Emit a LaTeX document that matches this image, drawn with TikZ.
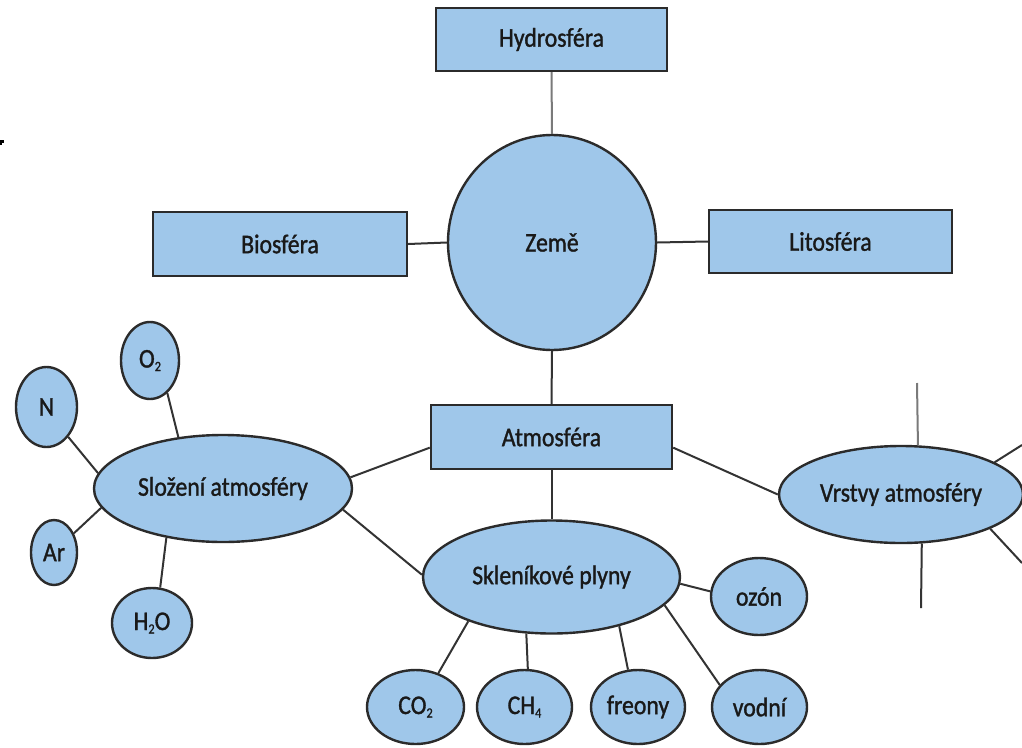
\documentclass[tikz,border=0pt]{standalone}
\usepackage{fontspec}
\setmainfont{Carlito}[FakeStretch=0.88,FakeBold=1.2]
\usetikzlibrary{shapes.geometric}
\definecolor{boxfill}{HTML}{9FC7EA}
\definecolor{edgecol}{HTML}{2B2B2B}
\definecolor{linecol}{HTML}{333333}
\definecolor{greyline}{HTML}{7A7A7A}
\newcommand{\chemsub}[1]{\raisebox{-3.5pt}{\fontsize{14}{14}\selectfont #1}}
\tikzset{
  lbl/.style={font=\fontsize{27}{31}\selectfont, text=black!90},
  sphere/.style={lbl, draw=edgecol, line width=2.4pt, fill=boxfill, rectangle, inner sep=0pt},
  oval/.style={lbl, draw=edgecol, line width=2.4pt, fill=boxfill, ellipse, inner sep=0pt},
  link/.style={draw=linecol, line width=2pt},
  glink/.style={draw=greyline, line width=2pt}
}
\begin{document}
\begin{tikzpicture}[x=1pt,y=-1pt]
\useasboundingbox (0,0) rectangle (1022,747);
% small mark at the left edge
\fill[black] (0,140) rectangle (4,142.5);
\fill[black] (0,140) rectangle (1.8,145);

% rectangles
\node[sphere, minimum width=231pt, minimum height=63pt] (hydro) at (551.5,39.5) {Hydrosféra};
\node[sphere, minimum width=254pt, minimum height=64pt] (bio) at (280,244) {Biosféra};
\node[sphere, minimum width=243pt, minimum height=63pt] (lito) at (830.5,241.5) {Litosféra};
\node[sphere, minimum width=241pt, minimum height=64pt] (atm) at (551.5,437) {Atmosféra};
% circle
\node[oval, minimum width=208pt, minimum height=215pt] (zeme) at (552,242.5) {Země};

% ellipses
\node[oval, minimum width=258pt, minimum height=107pt] (sloz) at (223,488.5) {Složení atmosféry};
\node[oval, minimum width=257pt, minimum height=113pt] (sklen) at (551.5,577) {Skleníkové plyny};
\node[oval, minimum width=244pt, minimum height=97pt] (vrst) at (901,494.5) {Vrstvy atmosféry};

\node[oval, minimum width=58pt, minimum height=77pt] (o2) at (150,360.5) {O\chemsub{2}};
\node[oval, minimum width=61pt, minimum height=80pt] (n) at (46.5,407) {N};
\node[oval, minimum width=46pt, minimum height=65pt] (ar) at (54,552.5) {Ar};
\node[oval, minimum width=80pt, minimum height=70pt] (h2o) at (152,623) {H\chemsub{2}O};

\node[oval, minimum width=96pt, minimum height=77pt] (ozon) at (759,596.5) {ozón};
\node[oval, minimum width=97pt, minimum height=74pt] (co2) at (415.5,707) {CO\chemsub{2}};
\node[oval, minimum width=95pt, minimum height=74pt] (ch4) at (524.5,707) {CH\chemsub{4}};
\node[oval, minimum width=94pt, minimum height=74pt] (freony) at (638,707) {freony};
\node[oval, minimum width=95pt, minimum height=74pt] (vodni) at (759.5,707) {vodní};

% free ends of the Vrstvy lines
\coordinate (vt) at (917,383);
\coordinate (vtr) at (1022,445);
\coordinate (vbr) at (1022,563);
\coordinate (vb) at (921,608);

% connectors
\draw[glink] (hydro.south) -- (zeme.north);
\draw[link] (bio.east) -- (zeme.west);
\draw[link] (zeme.east) -- (lito.west);
\draw[link] (zeme.south) -- (atm.north);
\draw[link] (atm.south) -- (sklen.north);
\draw[link] (atm.185) -- (sloz.5);
\draw[link] (sloz.-10) -- (sklen.179);
\draw[link] (atm.-5) -- (vrst.180);

\draw[glink] (vt) -- (vrst.71);
\draw[link] (vrst.19) -- (vtr);
\draw[link] (vrst.-21) -- (vbr);
\draw[link] (vrst.-67) -- (vb);

\draw[link] (sloz.131) -- (o2.-62);
\draw[link] (sloz.173) -- (n.-54);
\draw[link] (sloz.-171) -- (ar.44);
\draw[link] (sloz.-139) -- (h2o.77);

\draw[link] (sklen.-3) -- (ozon.174);
\draw[link] (sklen.-152) -- (co2.56);
\draw[link] (sklen.-114) -- (ch4.85);
\draw[link] (sklen.-36) -- (freony.105);
\draw[link] (sklen.-14) -- (vodni.151);
\end{tikzpicture}
\end{document}
